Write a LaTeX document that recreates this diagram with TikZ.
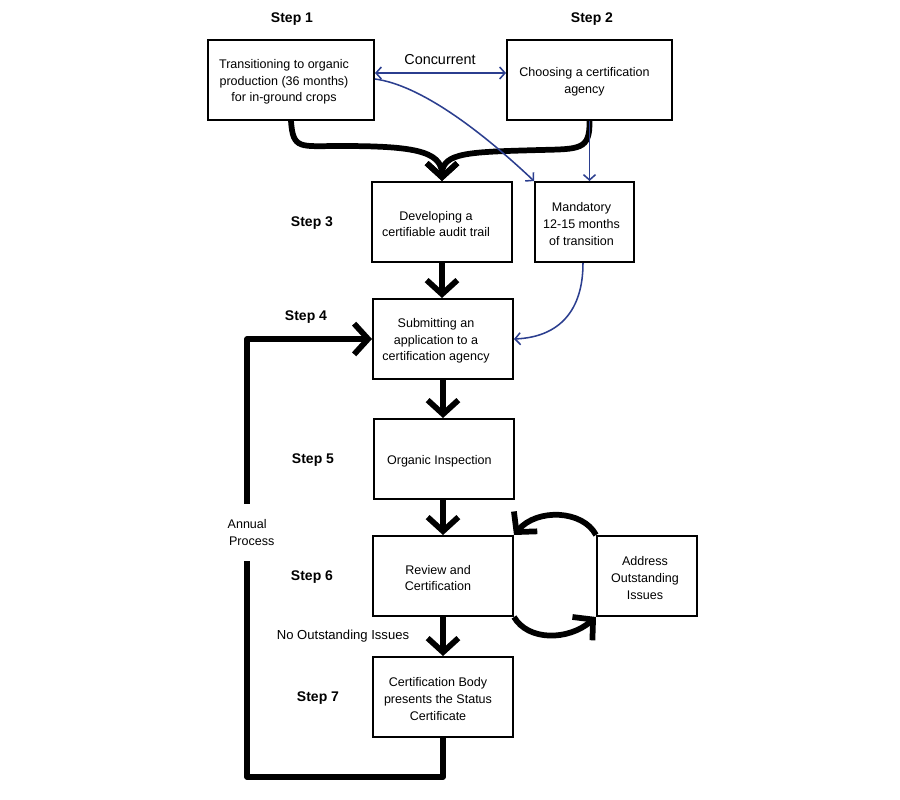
\documentclass[tikz,border=0pt]{standalone}
\usepackage{fontspec}
\setmainfont{Liberation Sans}
\usetikzlibrary{arrows.meta,calc}
\definecolor{navy}{RGB}{43,62,143}
\newcommand{\boxtext}[3]{\hspace*{-#1}\raisebox{-1.5pt}[\height][\depth]{\parbox{#2}{\centering #3}}}
\tikzset{
  box/.style={draw=black, line width=1.5pt, fill=white, rectangle,
    inner sep=0pt, font=\fontsize{9.4}{12.4}\selectfont},
  steplabel/.style={font=\fontsize{10.5}{12}\selectfont\bfseries, inner sep=0pt},
  plainlabel/.style={font=\fontsize{9.8}{12.4}\selectfont, inner sep=0pt},
  bigarrow/.style={line width=4.3pt, -{Straight Barb[length=10.5pt,width=23pt]}},
  bluearrow/.style={draw=navy, line width=1.15pt, -{Straight Barb[length=4pt,width=9pt]}},
  bluedouble/.style={draw=navy, line width=1.15pt, {Straight Barb[length=4pt,width=9pt]}-{Straight Barb[length=4pt,width=9pt]}}
}
\begin{document}
\begin{tikzpicture}[x=0.75pt,y=-0.75pt]
\fill[white] (0,0) rectangle (900,800);
\useasboundingbox (0,0) rectangle (900,800);

% boxes
\node[box, minimum width=166*0.75pt, minimum height=80*0.75pt] (b1) at (291,80)
  {\boxtext{10.5pt}{120pt}{Transitioning to organic\\production (36 months)\\for in-ground crops}};
\node[box, minimum width=165*0.75pt, minimum height=80*0.75pt] (b2) at (589.5,80)
  {\boxtext{7.5pt}{120pt}{Choosing a certification\\agency}};
\node[box, minimum width=140*0.75pt, minimum height=80*0.75pt] (b3) at (442,222)
  {\boxtext{9pt}{100pt}{Developing a\\certifiable audit trail}};
\node[box, minimum width=99*0.75pt, minimum height=80*0.75pt] (bm) at (584.5,222)
  {\boxtext{4.5pt}{70pt}{Mandatory\\12-15 months\\of transition}};
\node[box, minimum width=140*0.75pt, minimum height=80*0.75pt] (b4) at (443,339)
  {\boxtext{10.5pt}{100pt}{Submitting an\\application to a\\certification agency}};
\node[box, minimum width=140*0.75pt, minimum height=80*0.75pt] (b5) at (444,459)
  {\boxtext{7pt}{100pt}{Organic Inspection}};
\node[box, minimum width=140*0.75pt, minimum height=80*0.75pt] (b6) at (443,576)
  {\boxtext{7.5pt}{100pt}{Review and\\Certification}};
\node[box, minimum width=100*0.75pt, minimum height=80*0.75pt] (ba) at (647,576)
  {\boxtext{3pt}{72pt}{Address\\Outstanding\\Issues}};
\node[box, minimum width=140*0.75pt, minimum height=80*0.75pt] (b7) at (443,697)
  {\boxtext{7.5pt}{100pt}{Certification Body\\presents the Status\\Certificate}};

% step labels
\node[steplabel] (s1) at (292,19) {Step 1};
\node[steplabel] (s2) at (592,19) {Step 2};
\node[steplabel] (s3) at (312,223) {Step 3};
\node[steplabel] (s4) at (306,317) {Step 4};
\node[steplabel] (s5) at (313,460) {Step 5};
\node[steplabel] (s6) at (312,577) {Step 6};
\node[steplabel] (s7) at (318,698) {Step 7};

\node[font=\fontsize{10.8}{13}\selectfont, inner sep=0pt] (conc) at (440,60) {Concurrent};
\node[plainlabel] (noi) at (343,636) {No Outstanding Issues};

% merging thick arrows
\draw[bigarrow] (b1.south) .. controls (293,150) and (300,146) .. (340,146)
   .. controls (410,146) and (442,150) .. (b3.north);
\draw[bigarrow] (b2.south) .. controls (590,150) and (580,149) .. (540,150)
   .. controls (470,152) and (442,152) .. (b3.north);

% vertical thick arrows
\draw[bigarrow] (b3.south) -- (b3.south |- b4.north);
\draw[bigarrow] (b4.south) -- (b4.south |- b5.north);
\draw[bigarrow] (b5.south -| b4.south) -- (b4.south |- b6.north);
\draw[bigarrow] (b6.south) -- (b6.south |- b7.north);

% annual loop
\coordinate (c1) at (247,777);
\draw[bigarrow, line join=round] (b7.south) |- (c1) |- (b4.west);
\node[fill=white, minimum width=102*0.75pt, minimum height=57*0.75pt, align=left,
  font=\fontsize{9.4}{12.4}\selectfont, inner sep=0pt] (ap) at (251,532.5) {Annual\\\hspace*{1pt}Process};

% review loop
\draw[bigarrow] (ba.north west) .. controls (583,510) and (537,508) .. (b6.north east);
\draw[bigarrow] (b6.south east) .. controls (528,641) and (568,641) .. (ba.south west);

% blue arrows
\draw[bluedouble] ($(b1.east)+(0,-7)$) -- ($(b2.west)+(0,-7)$);
\draw[bluearrow] ($(b1.east)+(0,-1)$) .. controls (420,85) and (480,130) .. (bm.north west);
\draw[bluearrow] (b2.south) -- (b2.south |- bm.north);
\draw[bluearrow] ($(bm.south)+(-1.5,0)$) .. controls (583,310) and (560,337) .. (b4.east);
\end{tikzpicture}
\end{document}
